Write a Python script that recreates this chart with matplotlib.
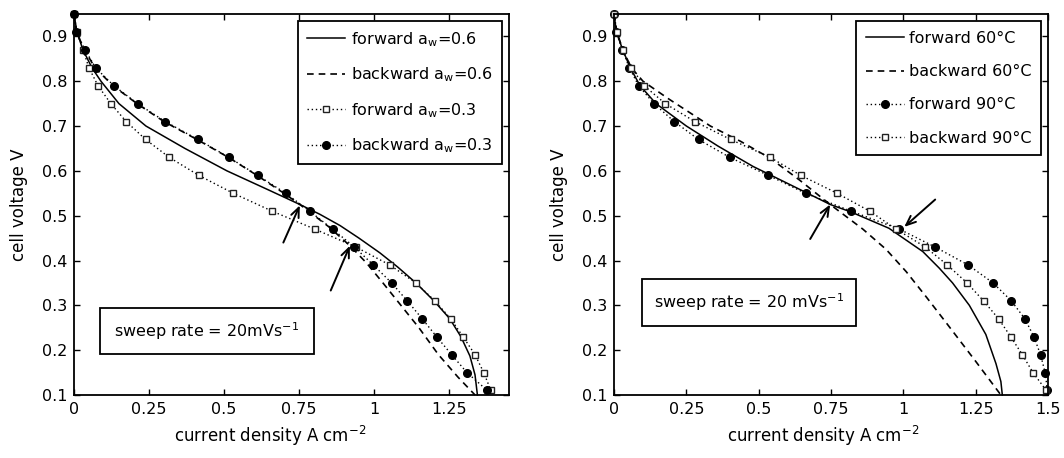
import matplotlib
matplotlib.use("Agg")
import matplotlib.pyplot as plt
from matplotlib.patches import Rectangle

# ---- left panel: water activity ----
v_steps = [0.95, 0.91, 0.87, 0.83, 0.79, 0.75, 0.71, 0.67, 0.63, 0.59, 0.55,
           0.51, 0.47, 0.43, 0.39, 0.35, 0.31, 0.27, 0.23, 0.19, 0.15, 0.11]

fwd06_i = [0, 0.01, 0.03, 0.06, 0.09, 0.15, 0.24, 0.37, 0.51, 0.65, 0.753,
           0.82, 0.887, 0.95, 1.02, 1.08, 1.14, 1.2, 1.253, 1.29, 1.32, 1.337, 1.345]
fwd06_v = [0.95, 0.91, 0.87, 0.83, 0.80, 0.75, 0.70, 0.65, 0.60, 0.557, 0.525,
           0.503, 0.478, 0.45, 0.417, 0.385, 0.35, 0.31, 0.27, 0.23, 0.187, 0.145, 0.10]

bwd06_i = [0, 0.008, 0.035, 0.07, 0.13, 0.21, 0.30, 0.41, 0.515, 0.61, 0.70,
           0.753, 0.85, 0.92, 0.976, 1.03, 1.09, 1.15, 1.215, 1.28, 1.337]
bwd06_v = [0.95, 0.91, 0.87, 0.83, 0.79, 0.75, 0.71, 0.67, 0.63, 0.59, 0.55,
           0.525, 0.475, 0.433, 0.394, 0.35, 0.30, 0.25, 0.19, 0.14, 0.10]

fwd03_i = [0, 0.01, 0.03, 0.05, 0.08, 0.123, 0.174, 0.239, 0.318, 0.416, 0.531,
           0.661, 0.803, 0.94, 1.053, 1.14, 1.203, 1.256, 1.297, 1.337, 1.366, 1.39]
bwd03_i = [0, 0.007, 0.037, 0.072, 0.133, 0.212, 0.304, 0.413, 0.517, 0.612, 0.706,
           0.786, 0.862, 0.935, 0.998, 1.059, 1.111, 1.161, 1.209, 1.259, 1.31, 1.378]

# arrows (tail x, tail y, tip x, tip y)
left_arrows = [(0.698, 0.44, 0.753, 0.523), (0.856, 0.333, 0.92, 0.433)]

# ---- right panel: temperature ----
fwd60_i = [0, 0.008, 0.03, 0.056, 0.09, 0.145, 0.25, 0.36, 0.48, 0.65, 0.747,
           0.82, 0.95, 1.067, 1.124, 1.17, 1.228, 1.285, 1.32, 1.337, 1.342]
fwd60_v = [0.95, 0.91, 0.87, 0.83, 0.79, 0.75, 0.70, 0.655, 0.61, 0.556, 0.525,
           0.508, 0.472, 0.42, 0.383, 0.35, 0.30, 0.235, 0.17, 0.13, 0.10]

bwd60_i = [0, 0.01, 0.03, 0.06, 0.1, 0.19, 0.333, 0.437, 0.54, 0.64, 0.747,
           0.86, 0.94, 1.01, 1.08, 1.147, 1.25, 1.337]
bwd60_v = [0.95, 0.91, 0.87, 0.83, 0.80, 0.76, 0.70, 0.666, 0.628, 0.58, 0.525,
           0.47, 0.425, 0.375, 0.318, 0.262, 0.175, 0.10]

fwd90_i = [0, 0.007, 0.029, 0.053, 0.085, 0.138, 0.208, 0.292, 0.4, 0.533, 0.662,
           0.82, 0.986, 1.11, 1.224, 1.31, 1.373, 1.42, 1.451, 1.474, 1.49, 1.498]
bwd90_i = [0, 0.01, 0.03, 0.06, 0.104, 0.177, 0.279, 0.403, 0.54, 0.645, 0.771,
           0.884, 0.975, 1.076, 1.152, 1.22, 1.277, 1.329, 1.371, 1.411, 1.448, 1.494]

right_arrows = [(0.678, 0.448, 0.747, 0.525), (1.11, 0.536, 1.003, 0.475)]

plt.rcParams['font.family'] = ['DejaVu Sans']
plt.rcParams['mathtext.default'] = 'regular'
plt.rcParams['font.size'] = 11.5

fig = plt.figure(figsize=(10.64, 4.58), dpi=100)
axL = fig.add_axes([0.0695, 0.1376, 0.4088, 0.8319])
axR = fig.add_axes([0.5771, 0.1376, 0.4079, 0.8319])

dot = (0, (1, 2))
dash = (0, (4, 3))

axL.plot(fwd06_i, fwd06_v, 'k-', lw=1.1, label='forward a$_w$=0.6')
axL.plot(bwd06_i, bwd06_v, 'k', ls=dash, lw=1.2, label='backward a$_w$=0.6')
axL.plot(fwd03_i, v_steps, 'k', ls=dot, lw=1.0, marker='s', ms=4.5,
         mfc='white', mec='#222222', mew=1.0, label='forward a$_w$=0.3')
axL.plot(bwd03_i, v_steps, 'k', ls=dot, lw=1.0, marker='o', ms=5.5,
         mfc='k', mec='k', label='backward a$_w$=0.3')

axR.plot(fwd60_i, fwd60_v, 'k-', lw=1.1, label='forward 60°C')
axR.plot(bwd60_i, bwd60_v, 'k', ls=dash, lw=1.2, label='backward 60°C')
axR.plot(fwd90_i, v_steps, 'k', ls=dot, lw=1.0, marker='o', ms=5.5,
         mfc='k', mec='k', label='forward 90°C')
axR.plot(bwd90_i, v_steps, 'k', ls=dot, lw=1.0, marker='s', ms=4.5,
         mfc='white', mec='#222222', mew=1.0, label='backward 90°C')

for ax, arrows in ((axL, left_arrows), (axR, right_arrows)):
    for x0, y0, x1, y1 in arrows:
        ax.annotate('', xy=(x1, y1), xytext=(x0, y0),
                    arrowprops=dict(arrowstyle='->,head_length=0.6,head_width=0.25',
                                    color='k', lw=1.4, shrinkA=0, shrinkB=0))

axL.set_xlim(0, 1.45)
axR.set_xlim(0, 1.5)
axL.set_xticks([0, 0.25, 0.5, 0.75, 1, 1.25])
axL.set_xticklabels(['0', '0.25', '0.5', '0.75', '1', '1.25'])
axR.set_xticks([0, 0.25, 0.5, 0.75, 1, 1.25, 1.5])
axR.set_xticklabels(['0', '0.25', '0.5', '0.75', '1', '1.25', '1.5'])

for ax in (axL, axR):
    ax.set_ylim(0.1, 0.95)
    ax.set_yticks([0.1, 0.2, 0.3, 0.4, 0.5, 0.6, 0.7, 0.8, 0.9])
    ax.set_yticklabels(['0.1', '0.2', '0.3', '0.4', '0.5', '0.6', '0.7', '0.8', '0.9'])
    ax.tick_params(direction='in', top=True, right=True, length=4, width=1.0,
                   pad=5, labelsize=11.5)
    for s in ax.spines.values():
        s.set_linewidth(1.3)
    ax.set_xlabel('current density A cm$^{-2}$', fontsize=12, labelpad=8)
    ax.set_ylabel('cell voltage V', fontsize=12)
    for ln in ax.lines:
        ln.set_clip_on(False)

axL.xaxis.set_label_coords(0.45, -0.075)
axR.xaxis.set_label_coords(0.482, -0.075)
axL.yaxis.set_label_coords(-0.105, 0.5)
axR.yaxis.set_label_coords(-0.106, 0.5)

legL = axL.legend(loc='upper right', numpoints=1, fancybox=False, framealpha=1,
                  edgecolor='k', fontsize=11.5, handlelength=2.4, handletextpad=0.35,
                  labelspacing=1.05, borderaxespad=0.45, borderpad=0.55)
legR = axR.legend(loc='upper right', numpoints=1, fancybox=False, framealpha=1,
                  edgecolor='k', fontsize=11.5, handlelength=2.4, handletextpad=0.3,
                  labelspacing=1.15, borderaxespad=0.45, borderpad=0.6)
for leg in (legL, legR):
    leg.get_frame().set_linewidth(1.3)

# sweep-rate boxes
axL.add_patch(Rectangle((0.0598, 0.1076), 0.4922, 0.1204, transform=axL.transAxes,
                        fill=False, lw=1.3, ec='k'))
axL.text(0.306, 0.168, 'sweep rate = 20mVs$^{-1}$', transform=axL.transAxes,
         ha='center', va='center', fontsize=11.5)
axR.add_patch(Rectangle((0.0645, 0.181), 0.4931, 0.1235, transform=axR.transAxes,
                        fill=False, lw=1.3, ec='k'))
axR.text(0.311, 0.243, 'sweep rate = 20 mVs$^{-1}$', transform=axR.transAxes,
         ha='center', va='center', fontsize=11.5)

fig.savefig('out.png', dpi=100)
